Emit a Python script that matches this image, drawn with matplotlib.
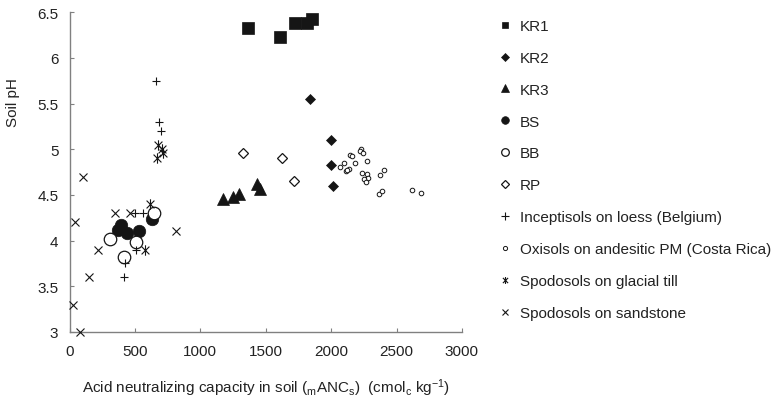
import matplotlib
matplotlib.use("Agg")
import matplotlib.pyplot as plt
from matplotlib.path import Path
from matplotlib.lines import Line2D

plt.rcParams['font.family'] = ['Liberation Sans', 'DejaVu Sans']
plt.rcParams['mathtext.fontset'] = 'custom'
plt.rcParams['mathtext.rm'] = 'Liberation Sans'
plt.rcParams['mathtext.it'] = 'Liberation Sans:italic'

# ---- data ----
kr1_x = [1361, 1611, 1725, 1815, 1853]
kr1_y = [6.33, 6.23, 6.38, 6.38, 6.43]

kr2_x = [1835, 2000, 2000, 2011]
kr2_y = [5.55, 5.10, 4.83, 4.60]

kr3_x = [1172, 1249, 1297, 1432, 1458]
kr3_y = [4.46, 4.48, 4.51, 4.62, 4.57]

bs_x = [374, 394, 442, 532, 634]
bs_y = [4.12, 4.17, 4.08, 4.11, 4.24]

bb_x = [310, 417, 509, 647]
bb_y = [4.02, 3.82, 3.99, 4.30]

rp_x = [1325, 1624, 1718]
rp_y = [4.96, 4.91, 4.65]

incept_x = [662, 685, 700, 500, 560, 509, 427, 420]
incept_y = [5.75, 5.30, 5.20, 4.30, 4.30, 3.90, 3.76, 3.60]

oxi_x = [2231, 2223, 2243, 2141, 2161, 2095, 2179, 2278, 2133, 2115, 2238,
         2274, 2281, 2253, 2263, 2370, 2406, 2366, 2391, 2615, 2684, 2069, 2121]
oxi_y = [5.00, 4.98, 4.96, 4.94, 4.93, 4.85, 4.85, 4.87, 4.78, 4.76, 4.74,
         4.73, 4.69, 4.67, 4.64, 4.72, 4.77, 4.51, 4.54, 4.55, 4.52, 4.81, 4.77]

till_x = [675, 710, 718, 667, 616, 578]
till_y = [5.05, 5.00, 4.96, 4.90, 4.40, 3.90]

sand_x = [101, 42, 348, 463, 216, 152, 29, 80, 815]
sand_y = [4.70, 4.20, 4.30, 4.30, 3.90, 3.60, 3.30, 3.00, 4.10]

labels = ['KR1', 'KR2', 'KR3', 'BS', 'BB', 'RP',
          'Inceptisols on loess (Belgium)',
          'Oxisols on andesitic PM (Costa Rica)',
          'Spodosols on glacial till',
          'Spodosols on sandstone']

xticks = [0, 500, 1000, 1500, 2000, 2500, 3000]
yticks = [3, 3.5, 4, 4.5, 5, 5.5, 6, 6.5]

# ---- style ----
K = '#151515'
FS = 11
ast = Path([(0, -1), (0, 1), (-0.75, -0.75), (0.75, 0.75), (-0.75, 0.75), (0.75, -0.75)],
           [Path.MOVETO, Path.LINETO, Path.MOVETO, Path.LINETO, Path.MOVETO, Path.LINETO])

styles = [
    dict(marker='s', ms=8, mfc=K, mec=K, mew=0.5),
    dict(marker='D', ms=5.6, mfc=K, mec=K, mew=0.5),
    dict(marker='^', ms=8, mfc=K, mec=K, mew=0.5),
    dict(marker='o', ms=9, mfc=K, mec=K, mew=0.5),
    dict(marker='o', ms=9, mfc='white', mec=K, mew=0.9),
    dict(marker='D', ms=5.6, mfc='white', mec=K, mew=0.9),
    dict(marker='+', ms=6, mfc=K, mec=K, mew=0.8),
    dict(marker='o', ms=3.3, mfc='white', mec=K, mew=0.7),
    dict(marker=ast, ms=7.5, mfc=K, mec=K, mew=0.8),
    dict(marker='x', ms=5.5, mfc=K, mec=K, mew=0.8),
]
leg_sizes = [5, 3.6, 5.5, 5.5, 5.5, 3.6, 5.5, 3, 5, 4.5]

series = [(kr1_x, kr1_y), (kr2_x, kr2_y), (kr3_x, kr3_y), (bs_x, bs_y),
          (bb_x, bb_y), (rp_x, rp_y), (incept_x, incept_y), (oxi_x, oxi_y),
          (till_x, till_y), (sand_x, sand_y)]

fig = plt.figure(figsize=(7.77, 4.10), dpi=100)
ax = fig.add_axes([0.0895, 0.188, 0.505, 0.7795])

order = [7, 8, 9, 6, 4, 3, 5, 2, 1, 0]
for i in order:
    xs, ys = series[i]
    ax.plot(xs, ys, linestyle='none', clip_on=False, zorder=3 + i * 0.1, **styles[i])

ax.set_xlim(0, 3000)
ax.set_ylim(3, 6.5)
ax.set_xticks(xticks)
ax.set_xticklabels([str(t) for t in xticks])
ax.set_yticks(yticks)
ax.set_yticklabels(['3', '3.5', '4', '4.5', '5', '5.5', '6', '6.5'])

for s in ['top', 'right']:
    ax.spines[s].set_visible(False)
for s in ['left', 'bottom']:
    ax.spines[s].set_color('#808080')
    ax.spines[s].set_linewidth(1.0)
ax.tick_params(direction='in', length=3, width=0.8, color='#808080',
               labelsize=FS, labelcolor='#222222')
ax.tick_params(axis='x', pad=9)
ax.tick_params(axis='y', pad=8)

ax.set_ylabel('Soil pH', fontsize=FS, color='#222222')
ax.yaxis.set_label_coords(-0.125, 0.72)
ax.set_xlabel(r'Acid neutralizing capacity in soil ($_{\mathrm{m}}$ANC$_{\mathrm{s}}$)  (cmol$_{\mathrm{c}}$ kg$^{-1}$)',
              fontsize=FS, color='#222222', labelpad=13)

handles = []
for st, sz in zip(styles, leg_sizes):
    d = dict(st)
    d['ms'] = sz
    handles.append(Line2D([], [], linestyle='none', **d))
fig.legend(handles, labels, loc='upper left', bbox_to_anchor=(498 / 777, 1 - 20 / 410),
           frameon=False, fontsize=FS, handlelength=0.9, handletextpad=0.55,
           labelspacing=1.17, borderpad=0, borderaxespad=0, labelcolor='#222222')

fig.savefig('out.png', dpi=100)
